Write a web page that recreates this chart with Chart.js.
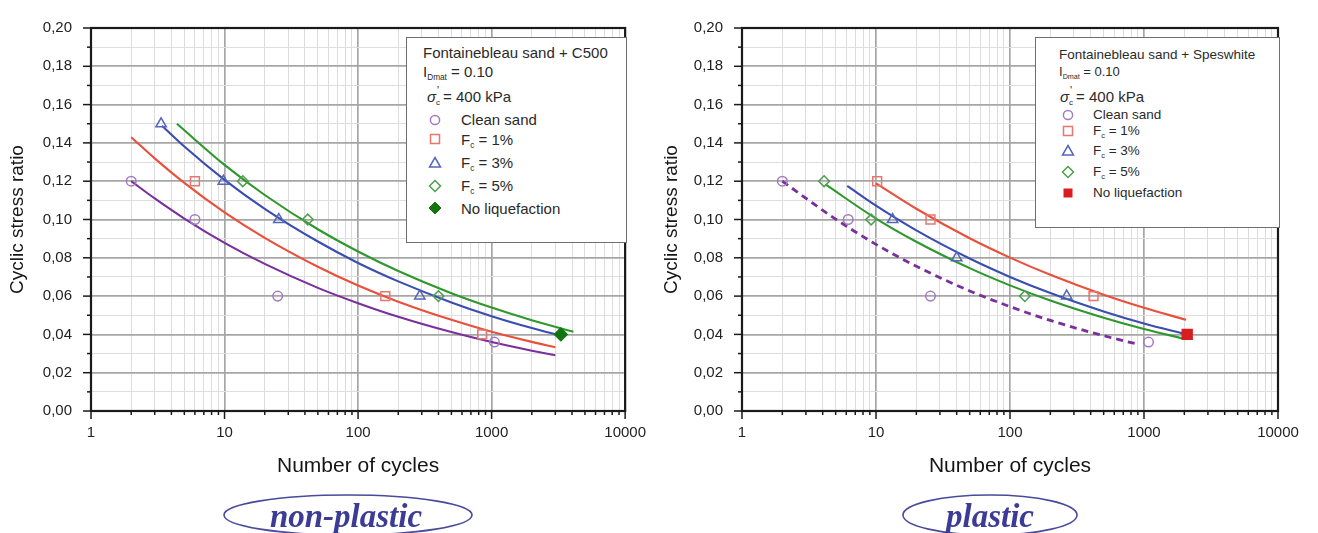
<!DOCTYPE html>
<html><head><meta charset="utf-8">
<script src="https://cdn.jsdelivr.net/npm/chart.js@4.4.1/dist/chart.umd.min.js"></script>
<style>
html,body{margin:0;padding:0;background:#fff;width:1318px;height:533px;overflow:hidden;font-family:"Liberation Sans",Arial,sans-serif;}
canvas{position:absolute;top:0;}
.box{position:absolute;background:#fff;border:1.5px solid #6e6e6e;box-sizing:border-box;}
.t{position:absolute;white-space:nowrap;line-height:1;color:#2a2a2a;}
.t sub{font-size:0.55em;vertical-align:-0.35em;line-height:0;}
.mk{position:absolute;width:14px;height:14px;}
.ss{display:inline-block;position:relative;width:7px;height:1em;vertical-align:top;}
.ss .p{position:absolute;left:1px;top:-4px;font-size:11px;}
.ss .c{position:absolute;left:0;top:10px;font-size:8px;}
svg.ov{position:absolute;left:0;top:0;}
</style>
</head><body>
<canvas id="c1" width="659" height="533" style="left:0"></canvas>
<canvas id="c2" width="659" height="533" style="left:659px"></canvas>

<!-- left legend -->
<div class="box" style="left:406px;top:37px;width:221px;height:206px;"></div>
<div class="t" style="left:423px;top:45px;font-size:15px;">Fontainebleau sand + C500</div>
<div class="t" style="left:423px;top:64px;font-size:15px;">I<sub>Dmat</sub> = 0.10</div>
<div class="t" style="left:427px;top:89px;font-size:15px;"><i>σ</i><span class="ss"><span class="p">'</span><span class="c">c</span></span>= 400 kPa</div>
<div class="t" style="left:461px;top:112px;font-size:15px;">Clean sand</div>
<div class="t" style="left:461px;top:132px;font-size:15px;">F<sub>c</sub> = 1%</div>
<div class="t" style="left:461px;top:155px;font-size:15px;">F<sub>c</sub> = 3%</div>
<div class="t" style="left:461px;top:178px;font-size:15px;">F<sub>c</sub> = 5%</div>
<div class="t" style="left:461px;top:201px;font-size:15px;">No liquefaction</div>
<svg class="mk" style="left:428px;top:113px" viewBox="0 0 14 14"><circle cx="7" cy="7" r="4.6" fill="none" stroke="#a27ac2" stroke-width="1.5"/></svg>
<svg class="mk" style="left:428px;top:132px" viewBox="0 0 14 14"><rect x="2.5" y="2.5" width="9" height="9" fill="none" stroke="#e8766e" stroke-width="1.5"/></svg>
<svg class="mk" style="left:428px;top:156px" viewBox="0 0 14 14"><polygon points="7,1.5 12.5,11 1.5,11" fill="none" stroke="#5566bb" stroke-width="1.5"/></svg>
<svg class="mk" style="left:428px;top:179px" viewBox="0 0 14 14"><polygon points="7,1.5 12.5,7 7,12.5 1.5,7" fill="none" stroke="#4c9f4c" stroke-width="1.5"/></svg>
<svg class="mk" style="left:428px;top:201px" viewBox="0 0 14 14"><polygon points="7,1 13,7 7,13 1,7" fill="#127512" stroke="#127512" stroke-width="1"/></svg>

<!-- right legend -->
<div class="box" style="left:1035px;top:37px;width:245px;height:191px;"></div>
<div class="t" style="left:1059px;top:48px;font-size:13.5px;">Fontainebleau sand + Speswhite</div>
<div class="t" style="left:1059px;top:65px;font-size:13px;">I<sub>Dmat</sub> = 0.10</div>
<div class="t" style="left:1060px;top:89px;font-size:15px;"><i>σ</i><span class="ss"><span class="p">'</span><span class="c">c</span></span>= 400 kPa</div>
<div class="t" style="left:1093px;top:108px;font-size:13.5px;">Clean sand</div>
<div class="t" style="left:1093px;top:124px;font-size:13.5px;">F<sub>c</sub> = 1%</div>
<div class="t" style="left:1093px;top:144px;font-size:13.5px;">F<sub>c</sub> = 3%</div>
<div class="t" style="left:1093px;top:165px;font-size:13.5px;">F<sub>c</sub> = 5%</div>
<div class="t" style="left:1093px;top:186px;font-size:13.5px;">No liquefaction</div>
<svg class="mk" style="left:1061px;top:108px" viewBox="0 0 14 14"><circle cx="7" cy="7" r="4.6" fill="none" stroke="#a27ac2" stroke-width="1.5"/></svg>
<svg class="mk" style="left:1061px;top:124px" viewBox="0 0 14 14"><rect x="2.5" y="2.5" width="9" height="9" fill="none" stroke="#e8766e" stroke-width="1.5"/></svg>
<svg class="mk" style="left:1061px;top:144px" viewBox="0 0 14 14"><polygon points="7,1.5 12.5,11 1.5,11" fill="none" stroke="#5566bb" stroke-width="1.5"/></svg>
<svg class="mk" style="left:1061px;top:165px" viewBox="0 0 14 14"><polygon points="7,1.5 12.5,7 7,12.5 1.5,7" fill="none" stroke="#4c9f4c" stroke-width="1.5"/></svg>
<svg class="mk" style="left:1061px;top:186px" viewBox="0 0 14 14"><rect x="2.5" y="2.5" width="9" height="9" fill="#d81e1e"/></svg>

<svg class="ov" width="1318" height="533">
  <ellipse cx="348" cy="515" rx="124" ry="20" fill="none" stroke="#4a4a9c" stroke-width="1.6"/>
  <text x="346" y="527" text-anchor="middle" font-family="Liberation Serif, Times New Roman, serif" font-style="italic" font-weight="bold" font-size="33" fill="#3c3c96">non-plastic</text>
  <ellipse cx="990" cy="515" rx="87" ry="20" fill="none" stroke="#4a4a9c" stroke-width="1.6"/>
  <text x="990" y="527" text-anchor="middle" font-family="Liberation Serif, Times New Roman, serif" font-style="italic" font-weight="bold" font-size="33" fill="#3c3c96">plastic</text>
</svg>

<script>
// ---------- axes ----------
const xDecades = [1, 10, 100, 1000, 10000];
const xMinorMultipliers = [2, 3, 4, 5, 6, 7, 8, 9];
const yMin = 0, yMax = 0.20, yStep = 0.01;
const xTitle = 'Number of cycles';
const yTitle = 'Cyclic stress ratio';

// ---------- non-plastic: Fontainebleau sand + C500 ----------
const npCleanN   = [2, 6, 25, 1050];
const npCleanCSR = [0.12, 0.10, 0.06, 0.036];
const npF1N      = [6, 160, 850];
const npF1CSR    = [0.12, 0.06, 0.04];
const npF3N      = [3.35, 9.8, 25.5, 290];
const npF3CSR    = [0.15, 0.12, 0.10, 0.06];
const npF5N      = [13.7, 42, 400];
const npF5CSR    = [0.12, 0.10, 0.06];
const npNoLiqN   = [3300];
const npNoLiqCSR = [0.04];
// trend curves
const npCleanFitN   = [2, 3, 5, 10, 20, 50, 100, 200, 500, 1000, 2000, 3000];
const npCleanFitCSR = [0.120, 0.111, 0.1005, 0.0878, 0.0768, 0.0643, 0.0563, 0.0492, 0.0412, 0.036, 0.0315, 0.0291];
const npF1FitN      = [2, 3, 5, 10, 20, 50, 100, 200, 500, 1000, 2000, 3000];
const npF1FitCSR    = [0.143, 0.1319, 0.1191, 0.1037, 0.0904, 0.0753, 0.0655, 0.0571, 0.0476, 0.0414, 0.0361, 0.0333];
const npF3FitN      = [3.4, 5, 10, 20, 50, 100, 200, 500, 1000, 2000, 3350];
const npF3FitCSR    = [0.149, 0.1381, 0.1207, 0.1056, 0.0885, 0.0773, 0.0677, 0.0567, 0.0495, 0.0433, 0.0392];
const npF5FitN      = [4.4, 10, 20, 50, 100, 200, 500, 1000, 2000, 4100];
const npF5FitCSR    = [0.150, 0.1285, 0.1128, 0.0949, 0.0833, 0.0731, 0.0615, 0.0540, 0.0474, 0.0414];

// ---------- plastic: Fontainebleau sand + Speswhite ----------
const plCleanN   = [2, 6.2, 25.5, 1080];
const plCleanCSR = [0.12, 0.10, 0.06, 0.036];
const plF1N      = [10.2, 25.5, 420];
const plF1CSR    = [0.12, 0.10, 0.06];
const plF3N      = [13.3, 40, 265];
const plF3CSR    = [0.10, 0.08, 0.06];
const plF5N      = [4.1, 9.2, 129];
const plF5CSR    = [0.12, 0.10, 0.06];
const plNoLiqN   = [2100];
const plNoLiqCSR = [0.04];
const plCleanFitN   = [2, 3, 5, 10, 20, 50, 100, 200, 500, 920];
const plCleanFitCSR = [0.120, 0.1111, 0.1002, 0.0870, 0.0756, 0.0627, 0.0545, 0.0473, 0.0393, 0.0347];
const plF1FitN      = [10, 20, 50, 100, 200, 500, 1000, 2060];
const plF1FitCSR    = [0.1189, 0.1056, 0.0902, 0.0801, 0.0711, 0.0607, 0.0539, 0.0476];
const plF3FitN      = [6.1, 10, 20, 50, 100, 200, 500, 1000, 2060];
const plF3FitCSR    = [0.1175, 0.1072, 0.0943, 0.0796, 0.0700, 0.0616, 0.0520, 0.0457, 0.0400];
const plF5FitN      = [4.2, 10, 20, 50, 100, 200, 500, 1000, 2060];
const plF5FitCSR    = [0.1183, 0.1005, 0.0884, 0.0746, 0.0656, 0.0577, 0.0487, 0.0428, 0.0375];

// ---------- helpers ----------
const pts = (xs, ys) => xs.map((x, i) => ({x: x, y: ys[i]}));
const isDecade = v => Math.abs(Math.log10(v) - Math.round(Math.log10(v))) < 1e-9;
const isYMajor = v => Math.round(v * 100) % 2 === 0;

const C = {
  purpleLine: '#7a2f9c', redLine: '#e8503c', blueLine: '#3a4db0', greenLine: '#2e982e',
  circle: '#a27ac2', square: '#e8766e', tri: '#5566bb', dia: '#4c9f4c'
};

function line(xs, ys, color, dash) {
  return {data: pts(xs, ys), showLine: true, borderColor: color, borderWidth: dash ? 2.8 : 2.1,
    borderDash: dash || [], pointRadius: 0, fill: false, cubicInterpolationMode: 'monotone', order: 2};
}
function marks(xs, ys, style, color, r, filled) {
  return {data: pts(xs, ys), showLine: false, pointStyle: style, pointRadius: r,
    pointBorderColor: color, pointBackgroundColor: filled ? color : 'rgba(255,255,255,0)',
    pointBorderWidth: 1.5, order: 0};
}

const framePlugin = {
  id: 'frame',
  afterDraw(chart) {
    const {ctx, chartArea: a, scales} = chart;
    ctx.save();
    ctx.strokeStyle = '#1a1a1a';
    ctx.lineWidth = 1.5;
    scales.y.ticks.forEach(t => {
      const p = scales.y.getPixelForValue(t.value);
      const len = isYMajor(t.value) ? 8 : 4;
      ctx.beginPath(); ctx.moveTo(a.left - len, p); ctx.lineTo(a.left, p); ctx.stroke();
    });
    scales.x.ticks.forEach(t => {
      const p = scales.x.getPixelForValue(t.value);
      const len = isDecade(t.value) ? 8 : 4;
      ctx.beginPath(); ctx.moveTo(p, a.bottom); ctx.lineTo(p, a.bottom + len); ctx.stroke();
    });
    ctx.lineWidth = 2.2;
    ctx.strokeRect(a.left, a.top, a.right - a.left, a.bottom - a.top);
    ctx.restore();
  }
};

function makeChart(id, datasets, yAxisWidth, yTitlePad, rightPad) {
  const font = {family: '"Liberation Sans", Arial, sans-serif'};
  return new Chart(document.getElementById(id), {
    type: 'scatter',
    data: {datasets: datasets},
    options: {
      responsive: false, animation: false, devicePixelRatio: 1,
      layout: {padding: {left: 0, right: rightPad, top: 15, bottom: 0}},
      plugins: {legend: {display: false}, tooltip: {enabled: false}},
      scales: {
        x: {
          type: 'logarithmic', min: xDecades[0], max: xDecades[xDecades.length - 1],
          afterBuildTicks: s => {
            const ticks = [];
            xDecades.forEach((d, i) => {
              ticks.push({value: d});
              if (i < xDecades.length - 1) xMinorMultipliers.forEach(m => ticks.push({value: d * m}));
            });
            s.ticks = ticks;
          },
          afterFit: s => { s.height = 122; },
          border: {display: false},
          grid: {
            drawTicks: false,
            color: c => (c.tick && isDecade(c.tick.value)) ? '#a6a6a6' : '#dcdcdc',
            lineWidth: c => (c.tick && isDecade(c.tick.value)) ? 1.7 : 1
          },
          ticks: {
            autoSkip: false, maxRotation: 0, minRotation: 0, padding: 13, color: '#222',
            font: Object.assign({size: 15}, font),
            callback: v => isDecade(v) ? String(Math.round(v)) : ''
          },
          title: {display: true, text: xTitle, color: '#151515', font: Object.assign({size: 21}, font),
            padding: {top: 0, bottom: 54}}
        },
        y: {
          type: 'linear', min: yMin, max: yMax,
          afterFit: s => { s.width = yAxisWidth; },
          border: {display: false},
          grid: {
            drawTicks: false,
            color: c => (c.tick && isYMajor(c.tick.value)) ? '#a6a6a6' : '#dedede',
            lineWidth: c => (c.tick && isYMajor(c.tick.value)) ? 1.7 : 1
          },
          ticks: {
            stepSize: yStep, autoSkip: false, padding: 19, color: '#222',
            font: Object.assign({size: 15}, font),
            callback: v => isYMajor(v) ? v.toFixed(2).replace('.', ',') : ''
          },
          title: {display: true, text: yTitle, color: '#151515', font: Object.assign({size: 19}, font),
            padding: {top: yTitlePad, bottom: 0}}
        }
      }
    },
    plugins: [framePlugin]
  });
}

makeChart('c1', [
  line(npCleanFitN, npCleanFitCSR, C.purpleLine),
  line(npF1FitN, npF1FitCSR, C.redLine),
  line(npF3FitN, npF3FitCSR, C.blueLine),
  line(npF5FitN, npF5FitCSR, C.greenLine),
  marks(npCleanN, npCleanCSR, 'circle', C.circle, 4.8),
  marks(npF1N, npF1CSR, 'rect', C.square, 6.3),
  marks(npF3N, npF3CSR, 'triangle', C.tri, 6),
  marks(npF5N, npF5CSR, 'rectRot', C.dia, 5.4),
  marks(npNoLiqN, npNoLiqCSR, 'rectRot', '#127512', 6.3, true)
], 91, 6.5, 31);

makeChart('c2', [
  line(plCleanFitN, plCleanFitCSR, C.purpleLine, [7, 5]),
  line(plF1FitN, plF1FitCSR, C.redLine),
  line(plF3FitN, plF3FitCSR, C.blueLine),
  line(plF5FitN, plF5FitCSR, C.greenLine),
  marks(plCleanN, plCleanCSR, 'circle', C.circle, 4.8),
  marks(plF1N, plF1CSR, 'rect', C.square, 6.3),
  marks(plF3N, plF3CSR, 'triangle', C.tri, 6),
  marks(plF5N, plF5CSR, 'rectRot', C.dia, 5.4),
  marks(plNoLiqN, plNoLiqCSR, 'rect', '#d81e1e', 7, true)
], 83, 1.5, 40);
</script>
</body></html>
